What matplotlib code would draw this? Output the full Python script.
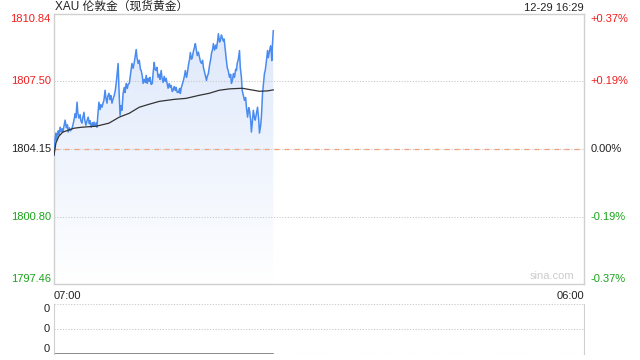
import numpy as np
import matplotlib
matplotlib.use("Agg")
import matplotlib.pyplot as plt
from matplotlib.colors import LinearSegmentedColormap

# minutes after 07:00 and price readings
minutes = [0, 3, 5, 6, 8, 11, 13, 16, 19, 21, 23, 26, 29, 32, 35, 37, 40, 43, 47,
           50, 52, 55, 57, 60, 62, 65, 68, 70, 73, 75, 78, 80, 83, 86, 89, 92,
           94, 97, 100, 102, 104, 107, 110, 112, 114, 117, 120, 122, 125, 128,
           130, 133, 135, 138, 140, 143, 146, 148, 151, 154, 157, 160, 163, 165,
           167, 169, 172, 175, 177, 180, 183, 185, 188, 191, 193, 196, 199, 201,
           203, 206, 209, 211, 214, 216, 219, 222, 225, 227, 230, 232, 235, 238,
           240, 243, 245, 248, 250, 253, 256, 258, 261, 263, 266, 268, 271, 274,
           276, 279, 281, 284, 287, 290, 292, 295, 297, 300, 303, 305, 308, 310,
           313, 316, 318, 321, 324, 327, 329, 331, 334, 337, 340, 342, 345, 347,
           350, 353, 355, 358, 360, 363, 366, 368, 371, 373, 376, 378, 381, 384,
           387, 389, 391, 394, 397, 399, 402, 405, 408, 410, 413, 415, 418, 421,
           423, 426, 428, 431, 433, 436, 438, 441, 443, 446, 448, 451, 454, 457,
           460, 462, 465, 467, 470, 473, 475, 477, 480, 483, 485, 488, 490, 493,
           496, 499, 501, 504, 507, 509, 512, 514, 517, 519, 522, 524, 527, 530,
           533, 535, 538, 540, 543, 546, 548, 550, 553, 556, 558, 561, 564, 566,
           567, 569, 571]
price = [1803.85, 1804.70, 1804.94, 1804.60, 1804.74, 1805.05, 1804.85, 1805.23,
         1805.00, 1805.15, 1804.99, 1805.30, 1805.58, 1805.20, 1805.35, 1804.99,
         1805.20, 1805.05, 1805.18, 1805.40, 1805.58, 1805.90, 1805.70, 1806.47,
         1805.95, 1805.68, 1805.85, 1805.55, 1805.43, 1805.70, 1805.97, 1805.60,
         1805.33, 1805.55, 1805.73, 1805.40, 1805.55, 1805.23, 1805.45, 1805.30,
         1805.48, 1805.28, 1805.45, 1805.23, 1805.80, 1806.47, 1806.10, 1806.35,
         1806.22, 1806.45, 1806.56, 1807.06, 1806.70, 1806.42, 1806.75, 1806.91,
         1806.60, 1806.80, 1806.42, 1806.65, 1806.81, 1807.10, 1807.60, 1808.00,
         1808.39, 1807.20, 1805.82, 1806.30, 1806.07, 1806.91, 1807.20, 1806.95,
         1807.40, 1807.15, 1807.35, 1807.40, 1807.80, 1808.10, 1808.39, 1808.15,
         1808.44, 1808.70, 1809.08, 1808.70, 1808.39, 1808.55, 1808.10, 1808.04,
         1807.75, 1807.40, 1807.60, 1807.45, 1807.80, 1807.40, 1807.65, 1807.50,
         1807.70, 1807.35, 1807.40, 1807.90, 1808.44, 1808.10, 1808.04, 1808.20,
         1807.70, 1807.85, 1807.60, 1808.04, 1807.70, 1807.45, 1807.75, 1807.50,
         1807.65, 1807.35, 1807.16, 1807.40, 1807.20, 1807.30, 1807.00, 1807.06,
         1807.25, 1807.05, 1807.20, 1806.95, 1806.96, 1807.15, 1806.90, 1807.16,
         1807.35, 1807.55, 1807.80, 1808.04, 1807.70, 1807.89, 1808.30, 1808.60,
         1808.93, 1808.60, 1808.68, 1809.00, 1809.20, 1809.37, 1809.00, 1808.78,
         1808.95, 1808.78, 1808.50, 1808.39, 1808.55, 1808.20, 1808.04, 1807.80,
         1807.55, 1807.75, 1807.89, 1808.30, 1808.60, 1808.88, 1809.10, 1809.37,
         1809.05, 1809.30, 1809.13, 1809.50, 1809.86, 1809.45, 1809.52, 1809.80,
         1809.67, 1809.50, 1809.60, 1809.03, 1808.70, 1808.19, 1808.00, 1807.70,
         1807.85, 1807.40, 1807.60, 1807.89, 1807.70, 1808.10, 1808.04, 1808.39,
         1808.60, 1809.03, 1808.20, 1807.70, 1807.06, 1806.80, 1806.56, 1806.70,
         1806.22, 1805.73, 1806.20, 1806.07, 1805.60, 1804.99, 1805.60, 1806.07,
         1805.70, 1805.58, 1805.90, 1806.22, 1805.60, 1804.94, 1805.30, 1805.73,
         1806.91, 1807.50, 1807.90, 1808.04, 1808.50, 1809.03, 1808.68, 1809.00,
         1809.27, 1808.90, 1808.53, 1809.40, 1810.01]

avg_minutes = [0, 5, 13, 23, 31, 52, 73, 110, 143, 170, 196, 222, 248, 274, 313,
               344, 378, 404, 430, 457, 490, 514, 535, 556, 571]
avg_price = [1803.85, 1804.45, 1804.79, 1804.99, 1805.04, 1805.18, 1805.23,
             1805.28, 1805.43, 1805.73, 1805.92, 1806.22, 1806.37, 1806.51,
             1806.61, 1806.66, 1806.81, 1806.91, 1807.06, 1807.13, 1807.16,
             1807.08, 1807.01, 1807.03, 1807.08]

prev_close = 1804.15
y_ticks = [1797.46, 1800.80, 1804.15, 1807.50, 1810.84]
pct_labels = ["-0.37%", "-0.19%", "0.00%", "+0.19%", "+0.37%"]
tick_colors = ["#1aa31a", "#1aa31a", "#222222", "#f01e1e", "#f01e1e"]
total_minutes = 1380

FONT = ["Liberation Sans", "Noto Sans CJK SC", "DejaVu Sans"]
plt.rcParams["font.family"] = FONT
grid_c = "#c8c8c8"
frame_c = "#d0d0d0"

fig = plt.figure(figsize=(6.4, 3.6), dpi=100)
ax = fig.add_axes([54 / 640, 1 - 284 / 360, 530 / 640, 270 / 360])
ax.set_xlim(0, total_minutes)
ax.set_ylim(y_ticks[0], y_ticks[-1])

# gradient fill below the price line
cmap = LinearSegmentedColormap.from_list("fill", ["#ffffff", "#dce7fb"])
grad = np.linspace(0, 1, 256).reshape(-1, 1)
img = ax.imshow(grad, cmap=cmap, aspect="auto", origin="lower",
                extent=[0, minutes[-1], y_ticks[0], y_ticks[-1]], zorder=1)
poly = ax.fill_between(minutes, price, y_ticks[0], color="none", lw=0)
img.set_clip_path(poly.get_paths()[0], transform=ax.transData)

for v in y_ticks[1:-1]:
    ax.axhline(v, color=grid_c, lw=0.8, ls=(0, (1, 1.5)), zorder=2)
ax.axhline(prev_close, color="#f0a27a", lw=0.9, ls=(0, (4, 4)), zorder=2)

ax.plot(minutes, price, color="#4a8bf0", lw=1.1, zorder=4)
ax.plot(avg_minutes, avg_price, color="#333333", lw=0.9, zorder=5)

ax.set_xticks([])
ax.set_yticks([])
for s in ax.spines.values():
    s.set_color(frame_c)
    s.set_linewidth(1)

# axis labels
for i, (v, lab, c) in enumerate(zip(y_ticks, pct_labels, tick_colors)):
    va = "bottom" if i == 0 else ("top" if i == len(y_ticks) - 1 else "center")
    ax.text(-0.006, v, f"{v:.2f}", transform=ax.get_yaxis_transform(),
            ha="right", va=va, color=c, fontsize=8)
    ax.text(1.012, v, lab, transform=ax.get_yaxis_transform(),
            ha="left", va=va, color=c, fontsize=8)

ax.text(0, -0.025, "07:00", transform=ax.transAxes, ha="left", va="top",
        fontsize=8, color="#222222")
ax.text(1, -0.025, "06:00", transform=ax.transAxes, ha="right", va="top",
        fontsize=8, color="#222222")
ax.text(0.94, 0.012, "sina.com", transform=ax.transAxes, ha="center",
        va="bottom", fontsize=8, color="#cccccc")

fig.text(55 / 640, 1 - 7 / 360, "XAU 伦敦金（现货黄金）", ha="left",
         va="center", fontsize=8.5, color="#222222")
fig.text(584 / 640, 1 - 8 / 360, "12-29 16:29", ha="right", va="center",
         fontsize=8, color="#222222")

# volume panel (all zero)
vol_ticks = [0, 0, 0]
vax = fig.add_axes([54 / 640, 1 - 354 / 360, 530 / 640, 50 / 360])
vax.set_xlim(0, total_minutes)
vax.set_ylim(0, 2)
vax.set_xticks([])
vax.set_yticks([])
for side in ["left", "right"]:
    vax.spines[side].set_color(frame_c)
for side in ["top", "bottom"]:
    vax.spines[side].set_visible(False)
for v in [0, 1, 2]:
    vax.axhline(v, color=grid_c, lw=0.8, ls=(0, (1, 1.5)))
vax.plot([0, minutes[-1]], [0, 0], color="#777777", lw=1.2)
for v, lab in zip([2, 1, 0], vol_ticks):
    vax.text(-0.008, v, str(lab), transform=vax.get_yaxis_transform(),
             ha="right", va="top" if v == 2 else ("bottom" if v == 0 else "center"),
             fontsize=8, color="#222222")

fig.savefig("out.png", dpi=100)
